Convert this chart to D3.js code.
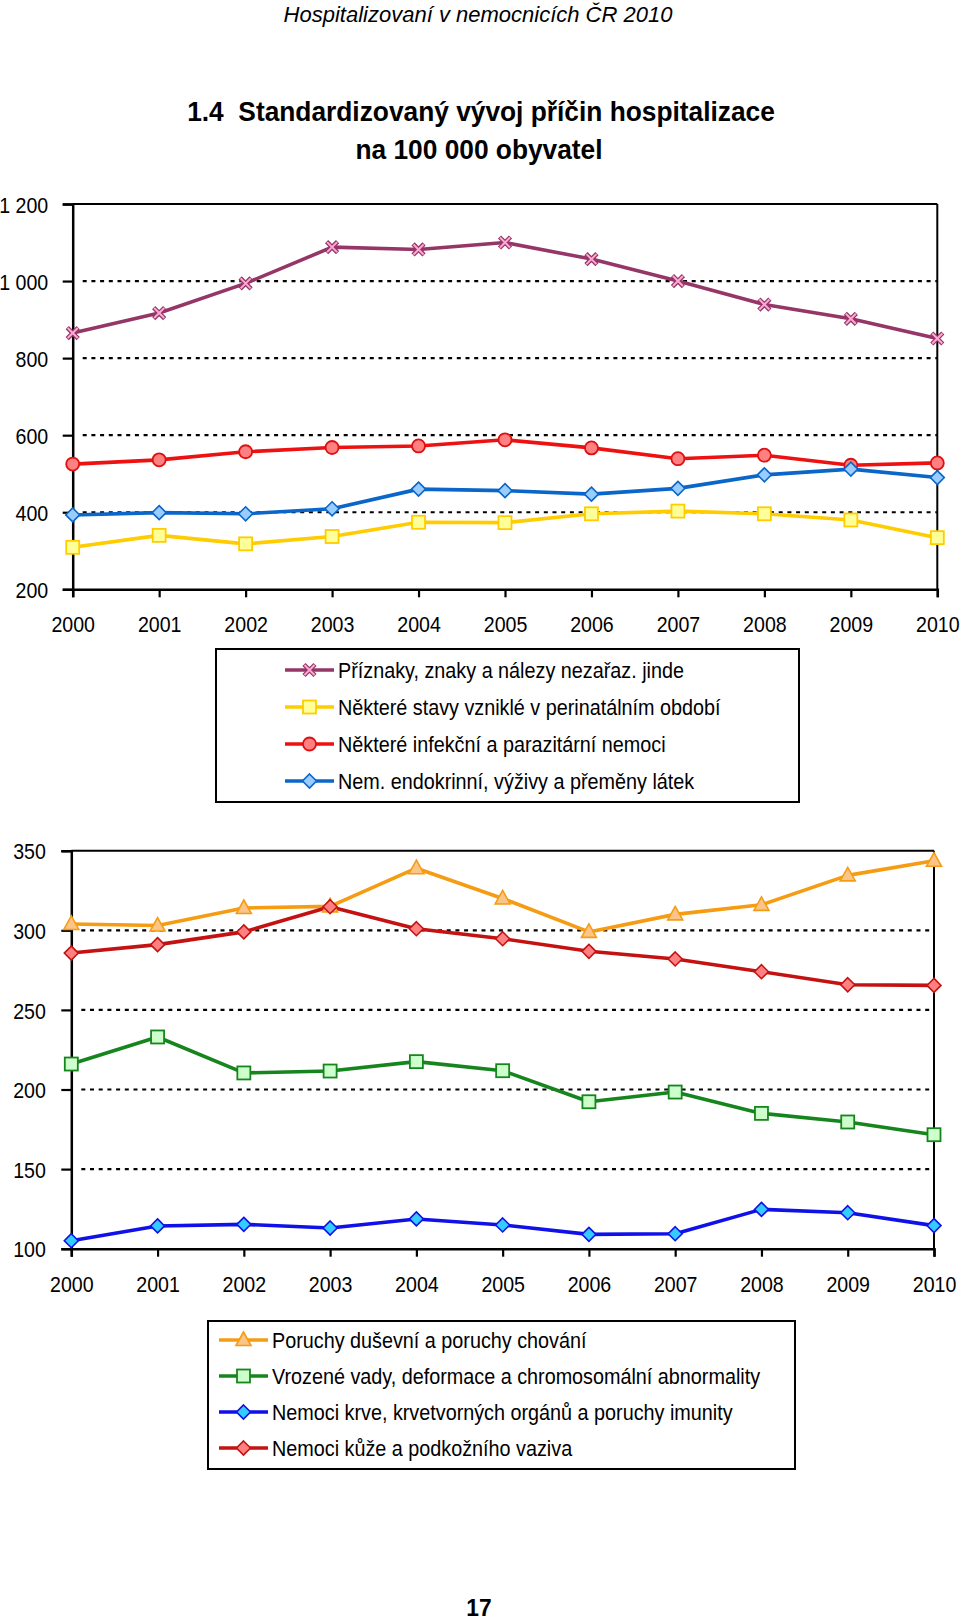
<!DOCTYPE html>
<html><head><meta charset="utf-8">
<script src="https://cdn.jsdelivr.net/npm/d3@7"></script>
<style>
html,body{margin:0;padding:0;background:#fff;}
svg{display:block;}
text{font-family:"Liberation Sans",Arial,sans-serif;}
</style></head><body>
<script>
// ---------- DATA ----------
const years = [2000,2001,2002,2003,2004,2005,2006,2007,2008,2009,2010];

const topTicks = [200,400,600,800,1000,1200];
const topTickLabels = ["200","400","600","800","1 000","1 200"];
const topGrid = [400,600,800,1000];

const priznaky   = [865,917,994,1088,1082,1100,1057,1000,939,902,851];
const perinatal  = [309,340,318,337,374,373,396,403,396,380,334];
const infekcni   = [525,536,557,568,572,588,567,539,548,522,528];
const endokrinni = [393,399,396,409,460,456,447,462,497,512,490];

const topNames = ["Příznaky, znaky a nálezy nezařaz. jinde","Některé stavy vzniklé v perinatálním období","Některé infekční a parazitární nemoci","Nem. endokrinní, výživy a přeměny látek"];

const botTicks = [100,150,200,250,300,350];
const botTickLabels = ["100","150","200","250","300","350"];
const botGrid = [150,200,250,300];

const dusevni = [304,303,314,315,339,320,299,310,316,334.5,343.7];
const vrozene = [216,233,210.4,211.6,217.5,211.8,192.3,198.4,185,179.6,171.6];
const krve    = [105,114.3,115.3,113,118.7,114.9,109,109.4,124.7,122.6,114.5];
const kuze    = [285.7,291,299,314.8,301,294.7,286.8,282,274,265.8,265.4];

const botNames = ["Poruchy duševní a poruchy chování","Vrozené vady, deformace a chromosomální abnormality","Nemoci krve, krvetvorných orgánů a poruchy imunity","Nemoci kůže a podkožního vaziva"];

// ---------- STYLE ----------
const topSeries = [
  {name:topNames[0], values:priznaky,   line:"#953667", fill:"#FFA8D4", stroke:"#953667", marker:"x"},
  {name:topNames[1], values:perinatal,  line:"#FFCC00", fill:"#FFFF99", stroke:"#FFCC00", marker:"square"},
  {name:topNames[2], values:infekcni,   line:"#EE1111", fill:"#FF8080", stroke:"#DD1111", marker:"circle"},
  {name:topNames[3], values:endokrinni, line:"#0A66C8", fill:"#99CCFF", stroke:"#0A66C8", marker:"diamond"}
];
const botSeries = [
  {name:botNames[0], values:dusevni, line:"#F59C12", fill:"#FBC58A", stroke:"#F59C12", marker:"triangle"},
  {name:botNames[1], values:vrozene, line:"#17851E", fill:"#CCFFCC", stroke:"#17851E", marker:"square"},
  {name:botNames[2], values:krve,    line:"#1010E8", fill:"#33CCFF", stroke:"#1010E8", marker:"diamond"},
  {name:botNames[3], values:kuze,    line:"#C41212", fill:"#FF8080", stroke:"#C41212", marker:"diamond"}
];

const AXIS_SX = 0.87, LEGEND_SX = 0.90;
const W = 960, H = 1621;
const svg = d3.select("body").append("svg").attr("width",W).attr("height",H);

function addText(x,y,str,o){
  o = o||{};
  const g = svg.append("g").attr("transform",`translate(${x},${y}) scale(${o.sx||1},1)`);
  const t = g.append("text").attr("x",0).attr("y",0)
    .attr("text-anchor",o.anchor||"start")
    .attr("font-size",o.size||21)
    .attr("font-weight",o.weight||"normal")
    .attr("font-style",o.style||"normal")
    .style("white-space","pre")
    .text(str);
  if(o.dy) t.attr("dy",o.dy);
  return t;
}

// Header
addText(478,22,"Hospitalizovaní v nemocnicích ČR 2010",{anchor:"middle",size:22,style:"italic",sx:1});
addText(481,121,"1.4  Standardizovaný vývoj příčin hospitalizace",{anchor:"middle",size:28,weight:"bold",sx:0.94});
addText(479,159,"na 100 000 obyvatel",{anchor:"middle",size:28,weight:"bold",sx:0.94});
addText(479,1616,"17",{anchor:"middle",size:24,weight:"bold",sx:0.95});

function drawMarker(g, type, fill, stroke){
  if(type==="circle"){
    g.append("circle").attr("r",6.5).attr("fill",fill).attr("stroke",stroke).attr("stroke-width",1.8);
  } else if(type==="square"){
    g.append("rect").attr("x",-6.5).attr("y",-6.5).attr("width",13).attr("height",13)
      .attr("fill",fill).attr("stroke",stroke).attr("stroke-width",1.8);
  } else if(type==="diamond"){
    g.append("path").attr("d","M0,-7L7,0L0,7L-7,0Z").attr("fill",fill).attr("stroke",stroke).attr("stroke-width",1.6);
  } else if(type==="triangle"){
    g.append("path").attr("d","M0,-8L7.5,5.5L-7.5,5.5Z").attr("fill",fill).attr("stroke",stroke).attr("stroke-width",1.6);
  } else if(type==="x"){
    g.append("path").attr("d","M-5.5,-5.5L5.5,5.5M-5.5,5.5L5.5,-5.5").attr("stroke",stroke).attr("stroke-width",4.5).attr("fill","none");
    g.append("path").attr("d","M-5,-5L5,5M-5,5L5,-5").attr("stroke",fill).attr("stroke-width",2).attr("fill","none");
  }
}

function drawChart(cfg){
  const x = d3.scaleLinear().domain([2000,2010]).range([cfg.left,cfg.right]);
  const y = d3.scaleLinear().domain(cfg.domain).range([cfg.bottom,cfg.top]);
  const g = svg.append("g");

  // grid
  g.selectAll(".grid").data(cfg.grid).enter().append("line")
    .attr("x1",cfg.left+10).attr("x2",cfg.right).attr("y1",d=>y(d)).attr("y2",d=>y(d))
    .attr("stroke","#000").attr("stroke-width",2.2).attr("stroke-dasharray","4,4.7");

  // top & right border
  g.append("line").attr("x1",cfg.left).attr("x2",cfg.right).attr("y1",cfg.top).attr("y2",cfg.top)
    .attr("stroke","#000").attr("stroke-width",2);
  g.append("line").attr("x1",cfg.right).attr("x2",cfg.right).attr("y1",cfg.top).attr("y2",cfg.bottom)
    .attr("stroke","#000").attr("stroke-width",2);

  // y axis
  const yAxis = d3.axisLeft(y).tickValues(cfg.ticks).tickSize(10).tickPadding(6)
    .tickFormat((d,i)=>cfg.tickLabels[i]);
  const ya = g.append("g").attr("transform",`translate(${cfg.left},0)`).call(yAxis);
  ya.select(".domain").attr("stroke","#000").attr("stroke-width",2.5);
  ya.selectAll(".tick line").attr("stroke","#000").attr("stroke-width",2.2);
  ya.selectAll(".tick text").attr("font-size",22.5).attr("fill","#000")
    .attr("font-family","Liberation Sans, Arial, sans-serif")
    .attr("x",cfg.yLabelOff/AXIS_SX).attr("dy","0.36em")
    .attr("transform",`scale(${AXIS_SX},1)`);

  // x axis
  const xAxis = d3.axisBottom(x).tickValues(years).tickSize(cfg.xTick).tickPadding(cfg.xPad).tickFormat(d3.format("d"));
  const xa = g.append("g").attr("transform",`translate(0,${cfg.bottom})`).call(xAxis);
  xa.select(".domain").attr("stroke","#000").attr("stroke-width",2.5);
  xa.selectAll(".tick line").attr("stroke","#000").attr("stroke-width",2.2);
  xa.selectAll(".tick text").attr("font-size",22.5).attr("fill","#000")
    .attr("font-family","Liberation Sans, Arial, sans-serif")
    .attr("transform",`scale(${AXIS_SX},1)`);

  // series
  const line = d3.line().x((d,i)=>x(years[i])).y(d=>y(d));
  cfg.series.forEach(s=>{
    g.append("path").datum(s.values).attr("d",line).attr("fill","none")
      .attr("stroke",s.line).attr("stroke-width",3.6).attr("stroke-linejoin","round");
  });
  cfg.series.forEach(s=>{
    s.values.forEach((v,i)=>{
      const mg = g.append("g").attr("transform",`translate(${x(years[i])},${y(v)})`);
      drawMarker(mg,s.marker,s.fill,s.stroke);
    });
  });

  // legend
  const L = cfg.legend;
  g.append("rect").attr("x",L.x).attr("y",L.y).attr("width",L.w).attr("height",L.h)
    .attr("fill","#fff").attr("stroke","#000").attr("stroke-width",2);
  cfg.series.forEach((s,i)=>{
    const yy = L.y + L.first + i*L.step;
    g.append("line").attr("x1",L.lx1).attr("x2",L.lx2).attr("y1",yy).attr("y2",yy)
      .attr("stroke",s.line).attr("stroke-width",3.6);
    const mg = g.append("g").attr("transform",`translate(${(L.lx1+L.lx2)/2},${yy})`);
    drawMarker(mg,s.marker,s.fill,s.stroke);
    addText(L.tx,yy,s.name,{size:22,dy:"0.36em",sx:LEGEND_SX});
  });
}

drawChart({
  left:72.7, right:937.3, top:204, bottom:589.3,
  domain:[200,1200], ticks:topTicks, tickLabels:topTickLabels, grid:topGrid,
  xTick:8, xPad:19, yLabelOff:-24.5, series:topSeries,
  legend:{x:216, y:649, w:583, h:153, first:21, step:37, lx1:285, lx2:334, tx:338}
});

drawChart({
  left:71.3, right:934, top:850.7, bottom:1248.7,
  domain:[100,350], ticks:botTicks, tickLabels:botTickLabels, grid:botGrid,
  xTick:8, xPad:19, yLabelOff:-25.5, series:botSeries,
  legend:{x:208, y:1321, w:587, h:148, first:19, step:36, lx1:219, lx2:268, tx:272}
});
</script>
</body></html>
